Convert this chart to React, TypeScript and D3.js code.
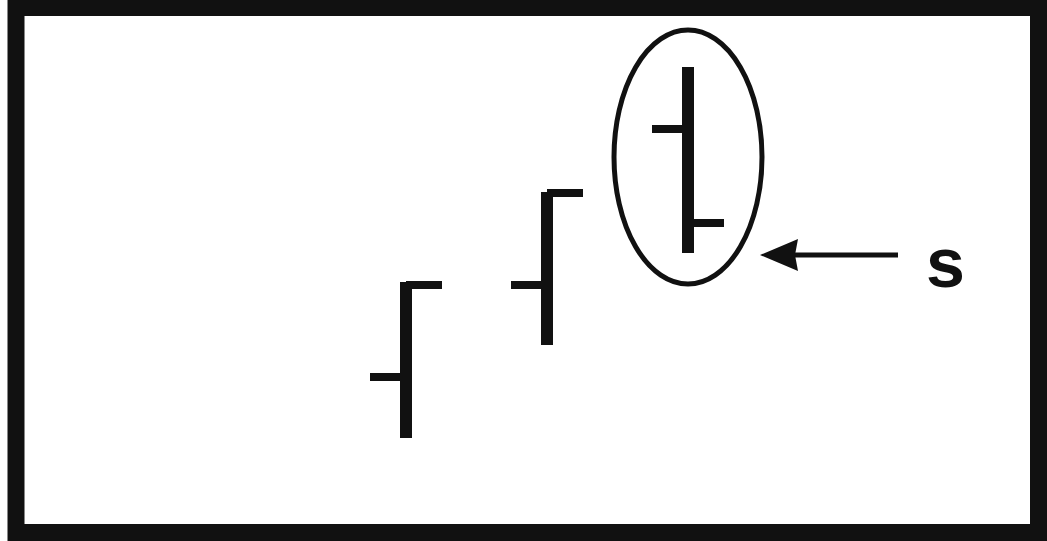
import * as d3 from "d3";
import { useEffect, useRef } from "react";

// three price bars (open / high / low / close)
const days = ["d1", "d2", "d3"];
const openVals = [24.6, 43.0, 74.2];
const highVals = [43.6, 61.6, 86.6];
const lowVals = [12.4, 31.0, 49.4];
const closeVals = [43.0, 61.4, 55.4];
// the circled bar and its label
const markedDay = "d3";
const markLabel = "s";

const W = 1047;
const H = 541;

const App = () => {
  const ref = useRef<SVGSVGElement>(null);

  useEffect(() => {
    const svg = d3.select(ref.current);
    svg.selectAll("*").remove();

    const ink = "#111";

    // frame
    svg.append("rect")
      .attr("x", 16).attr("y", 7.5)
      .attr("width", 1022.5).attr("height", 525)
      .attr("fill", "#fff")
      .attr("stroke", ink)
      .attr("stroke-width", 17);

    const x = d3.scalePoint().domain(days).range([406, 688]);
    const y = d3.scaleLinear().domain([0, 100]).range([500, 0]);

    const data = days.map((d, i) => ({
      day: d, open: openVals[i], high: highVals[i], low: lowVals[i], close: closeVals[i],
    }));
    const tick = 36;

    const bars = svg.append("g").selectAll("g").data(data).join("g");

    bars.append("line")
      .attr("x1", (d) => x(d.day)!).attr("x2", (d) => x(d.day)!)
      .attr("y1", (d) => y(d.high)).attr("y2", (d) => y(d.low))
      .attr("stroke", ink).attr("stroke-width", 12);

    bars.append("line")
      .attr("x1", (d) => x(d.day)! - tick).attr("x2", (d) => x(d.day)!)
      .attr("y1", (d) => y(d.open)).attr("y2", (d) => y(d.open))
      .attr("stroke", ink).attr("stroke-width", 8);

    bars.append("line")
      .attr("x1", (d) => x(d.day)!).attr("x2", (d) => x(d.day)! + tick)
      .attr("y1", (d) => y(d.close)).attr("y2", (d) => y(d.close))
      .attr("stroke", ink).attr("stroke-width", 8);

    // ellipse round the marked bar
    const m = data.find((d) => d.day === markedDay)!;
    const cx = x(m.day)!;
    const cy = (y(m.high) + y(m.low)) / 2 - 3;
    const rx = 74;
    const ry = (y(m.low) - y(m.high)) / 2 + 34;
    svg.append("ellipse")
      .attr("cx", cx).attr("cy", cy)
      .attr("rx", rx).attr("ry", ry)
      .attr("fill", "none")
      .attr("stroke", ink)
      .attr("stroke-width", 5);

    // arrow pointing at the ellipse
    const ay = y(m.low) + 2;
    const tipX = cx + rx - 2;
    const tailX = 898;
    svg.append("line")
      .attr("x1", tipX + 30).attr("x2", tailX)
      .attr("y1", ay).attr("y2", ay)
      .attr("stroke", ink).attr("stroke-width", 5);
    svg.append("path")
      .attr("d", `M${tipX},${ay} L${tipX + 38},${ay - 16} L${tipX + 35},${ay} L${tipX + 38},${ay + 16} Z`)
      .attr("fill", ink);

    svg.append("text")
      .attr("x", 926).attr("y", 287)
      .attr("font-family", "Liberation Sans, Arial, sans-serif")
      .attr("font-weight", "bold")
      .attr("font-size", 70)
      .attr("fill", ink)
      .text(markLabel);
  }, []);

  return (
    <svg
      ref={ref}
      width={W}
      height={H}
      style={{ position: "absolute", left: 0, top: 0, display: "block", background: "#fff" }}
    />
  );
};

export default App;
